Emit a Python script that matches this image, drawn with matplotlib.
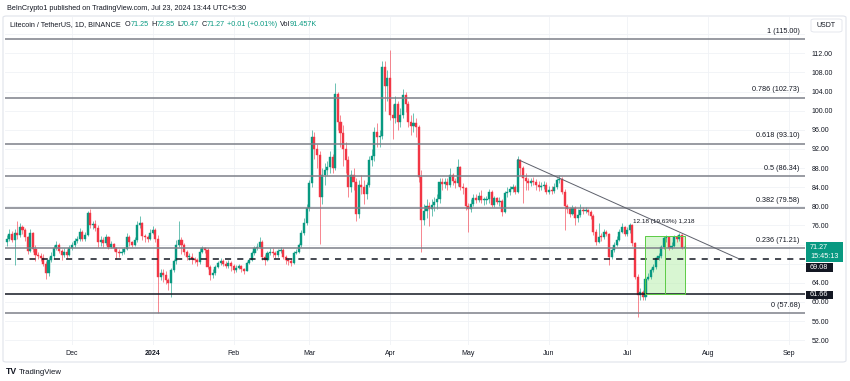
import numpy as np
import matplotlib
matplotlib.use("Agg")
import matplotlib.pyplot as plt
from matplotlib.patches import Rectangle, FancyBboxPatch
import datetime as dt

plt.rcParams['font.family'] = ['Liberation Sans', 'DejaVu Sans']

# ---------------- data (LTC/USDT daily, Nov 6 2023 - Jul 23 2024) ----------------
first_open = 72.5
nov_close = [73.2, 74.2, 73.0, 74.5, 74.0, 75.7, 75.0, 73.5, 70.7, 74.4, 71.0, 69.8, 69.6, 69.2, 68.0,
             66.0, 68.7, 69.6, 71.2, 72.0, 70.6, 69.8, 70.5, 69.8, 71.2]
nov_high = [74.0, 75.3, 74.8, 75.2, 77.0, 76.5, 76.2, 75.5, 73.8, 75.3, 74.6, 72.0, 70.5, 70.3, 70.0,
            68.5, 69.4, 70.5, 72.0, 72.8, 72.4, 71.0, 71.2, 71.0, 72.0]
nov_low = [71.8, 72.8, 72.5, 67.8, 73.2, 73.5, 74.2, 72.8, 70.0, 70.5, 70.5, 68.5, 69.0, 68.6, 67.5,
           64.8, 65.5, 68.3, 69.2, 70.8, 70.2, 68.8, 69.5, 69.3, 69.6]
dec_close = [72.0, 72.8, 73.2, 74.7, 73.2, 74.0, 78.6, 76.0, 76.3, 75.5, 72.5, 73.0, 72.3, 73.5, 71.5,
             72.2, 71.2, 70.5, 70.2, 70.5, 71.0, 73.6, 72.5, 72.0, 72.9, 76.1, 76.5, 73.7, 73.5, 73.2, 74.5]
dec_high = [72.5, 73.4, 73.8, 75.5, 75.0, 74.6, 79.0, 79.5, 77.0, 77.2, 76.0, 73.8, 73.5, 74.2, 73.8,
            72.8, 72.4, 71.6, 71.0, 71.2, 71.6, 74.5, 74.0, 72.8, 73.5, 77.0, 78.0, 76.8, 74.2, 74.0, 75.3]
dec_low = [70.8, 71.5, 72.4, 72.8, 72.8, 72.8, 73.8, 75.5, 75.2, 74.8, 71.5, 71.8, 71.6, 72.0, 71.0,
           71.2, 70.6, 69.0, 69.5, 69.8, 70.0, 70.8, 71.8, 71.5, 71.8, 72.6, 75.5, 73.0, 72.5, 72.6, 73.0]
jan_close = [75.0, 73.2, 65.3, 66.0, 65.6, 64.5, 64.0, 66.7, 68.5, 72.0, 73.0, 71.9, 70.5, 69.5, 69.5,
             69.0, 68.8, 68.4, 70.5, 71.2, 70.8, 67.4, 65.6, 66.0, 67.4, 68.1, 68.6, 68.0, 67.6, 68.1, 67.5]
jan_high = [75.8, 75.5, 74.0, 66.8, 66.8, 66.5, 65.0, 67.2, 69.0, 73.0, 77.0, 73.5, 72.3, 70.8, 70.2,
            70.2, 69.5, 69.2, 71.2, 71.8, 71.5, 71.2, 67.8, 66.8, 67.8, 68.6, 69.2, 69.0, 68.5, 68.8, 68.5]
jan_low = [74.2, 72.5, 57.7, 64.5, 64.2, 63.8, 62.5, 61.0, 66.2, 68.0, 71.5, 70.0, 69.8, 68.8, 68.8,
           68.0, 68.2, 67.6, 68.0, 70.2, 70.2, 66.8, 64.5, 65.0, 65.6, 67.0, 67.8, 67.5, 67.0, 67.2, 66.5]
feb_close = [66.7, 67.2, 67.6, 66.8, 66.5, 68.1, 68.8, 70.2, 71.2, 71.5, 72.6, 69.5, 68.8, 70.2, 70.5,
             70.3, 69.8, 70.6, 70.8, 69.5, 68.8, 68.5, 68.2, 70.2, 70.5, 71.9, 74.4, 76.5, 79.6]
feb_high = [68.0, 67.8, 68.0, 67.8, 67.2, 68.6, 69.2, 70.6, 71.8, 72.3, 73.6, 73.0, 70.0, 70.6, 71.2,
            71.3, 70.6, 71.0, 71.5, 71.2, 69.8, 69.3, 69.0, 70.6, 71.0, 72.4, 75.0, 77.5, 80.5]
feb_low = [66.0, 66.2, 66.8, 66.2, 65.8, 66.4, 68.0, 68.6, 69.8, 70.8, 71.2, 68.8, 67.8, 68.5, 69.8,
           69.5, 69.2, 69.4, 70.2, 69.0, 68.0, 67.8, 67.5, 68.0, 70.0, 70.2, 71.5, 74.0, 76.0]
mar_close = [84.8, 94.6, 92.0, 90.7, 82.0, 86.5, 87.6, 88.3, 90.4, 88.0, 103.5, 97.7, 95.3, 92.0, 89.7,
             84.1, 86.5, 85.0, 78.5, 84.5, 84.0, 82.5, 84.5, 89.7, 90.5, 95.6, 94.5, 94.8, 109.2, 105.1, 106.8]
mar_high = [85.5, 96.0, 95.5, 93.0, 91.5, 88.0, 89.0, 89.5, 91.5, 91.0, 105.8, 104.0, 99.0, 97.0, 93.5,
            90.5, 87.5, 88.0, 86.0, 85.5, 86.5, 85.5, 85.0, 90.5, 92.0, 96.5, 97.5, 96.0, 110.5, 110.5, 108.5]
mar_low = [79.0, 84.0, 90.0, 88.0, 72.2, 80.5, 84.5, 86.5, 87.0, 87.0, 87.5, 96.0, 92.5, 88.5, 87.0,
           82.0, 83.0, 83.5, 77.0, 77.5, 82.5, 80.5, 81.5, 84.0, 88.5, 89.5, 92.5, 92.5, 94.0, 100.0, 102.0]
apr_close = [99.1, 98.4, 101.5, 97.7, 99.0, 103.3, 101.5, 97.7, 96.8, 97.5, 96.5, 86.2, 77.1, 79.0, 80.0,
             79.5, 80.3, 80.9, 81.5, 85.1, 84.6, 85.1, 84.5, 86.5, 85.2, 84.8, 88.3, 84.0, 83.8, 80.0]
apr_high = [112.7, 101.5, 103.0, 102.0, 100.5, 104.5, 104.0, 102.0, 99.0, 99.5, 98.5, 97.0, 87.5, 80.5, 81.5,
            81.0, 81.5, 82.0, 82.5, 86.0, 86.0, 86.0, 86.0, 88.0, 87.0, 86.0, 90.0, 88.5, 84.8, 84.0]
apr_low = [98.0, 94.0, 97.5, 96.0, 96.5, 98.5, 99.8, 96.5, 95.0, 95.5, 94.5, 85.0, 70.5, 76.0, 77.5,
           75.8, 78.0, 79.0, 79.5, 80.8, 83.5, 83.8, 83.5, 84.0, 84.5, 83.8, 84.2, 83.5, 82.6, 79.2]
may_close = [79.5, 80.5, 81.7, 81.4, 82.2, 81.3, 81.3, 81.5, 83.1, 80.3, 81.7, 81.0, 81.2, 78.9, 82.7,
             83.0, 83.6, 84.1, 83.1, 89.7, 88.0, 86.0, 85.3, 84.8, 85.3, 85.1, 84.5, 84.0, 84.2, 84.5, 83.1]
may_high = [80.8, 81.5, 82.5, 82.5, 83.0, 83.5, 82.0, 82.2, 83.6, 83.5, 82.2, 82.0, 82.0, 81.5, 83.2,
            84.0, 84.2, 84.6, 84.5, 90.5, 90.0, 88.5, 87.0, 86.0, 86.0, 86.2, 85.8, 85.3, 85.0, 85.2, 85.0]
may_low = [74.7, 78.8, 80.0, 80.8, 81.0, 80.8, 80.2, 80.5, 80.8, 79.8, 79.8, 80.5, 80.0, 78.0, 78.6,
           82.0, 82.4, 83.0, 82.6, 82.8, 86.5, 80.6, 83.5, 83.5, 84.2, 84.5, 83.5, 83.2, 83.4, 83.6, 82.5]
jun_close = [83.5, 83.2, 84.0, 85.5, 85.8, 83.0, 80.0, 79.4, 78.5, 79.6, 77.5, 78.2, 79.2, 79.0, 79.2,
             78.8, 78.0, 74.7, 72.6, 73.6, 73.5, 74.7, 74.2, 69.5, 70.9, 72.0, 73.0, 74.7, 75.7, 74.2]
jun_high = [84.2, 84.2, 84.8, 86.0, 86.5, 86.2, 83.6, 80.5, 79.8, 80.2, 80.0, 79.5, 80.5, 79.8, 79.8,
            79.5, 79.2, 78.4, 75.2, 76.5, 74.5, 75.2, 75.0, 74.4, 71.6, 72.6, 73.8, 75.3, 76.5, 75.8]
jun_low = [82.6, 82.5, 82.8, 83.6, 84.8, 82.5, 75.0, 78.6, 77.8, 78.2, 76.2, 76.8, 77.8, 78.4, 78.6,
           78.2, 77.4, 74.0, 72.0, 72.4, 72.8, 73.2, 73.8, 67.7, 69.0, 70.4, 71.8, 72.8, 74.5, 73.9]
jul_close = [75.0, 76.1, 72.3, 65.3, 61.4, 62.0, 61.0, 64.9, 65.2, 66.7, 67.3, 69.1, 69.6, 71.5, 73.3,
             73.6, 71.3, 71.8, 73.6, 73.2, 74.0, 71.26, 71.27]
jul_high = [75.6, 76.6, 76.3, 72.5, 65.8, 63.0, 62.6, 65.4, 66.0, 67.2, 68.0, 69.5, 70.2, 72.0, 73.8,
            74.0, 73.8, 72.6, 74.1, 74.0, 74.4, 74.3, 72.85]
jul_low = [73.8, 74.5, 71.8, 64.8, 56.9, 60.5, 60.4, 60.4, 64.5, 64.8, 66.2, 66.8, 68.8, 69.2, 71.0,
           72.5, 70.9, 71.0, 71.4, 72.5, 72.8, 71.0, 70.47]

fib_levels = [115.00, 102.73, 93.10, 86.34, 79.58, 71.21, 57.68]
fib_labels = ["1 (115.00)", "0.786 (102.73)", "0.618 (93.10)", "0.5 (86.34)",
              "0.382 (79.58)", "0.236 (71.21)", "0 (57.68)"]
dashed_level = 69.08
support_level = 61.66
last_price = 71.27
trend_start = ("2024-05-20", 89.8)
trend_end = ("2024-08-13", 69.0)
range_box = ("2024-07-08", "2024-07-23", 61.66, 73.84)
range_text = "12.18 (19.63%) 1,218"
month_ticks = ["2023-12-01", "2024-01-01", "2024-02-01", "2024-03-01", "2024-04-01",
               "2024-05-01", "2024-06-01", "2024-07-01", "2024-08-01", "2024-09-01"]
month_labels = ["Dec", "2024", "Feb", "Mar", "Apr", "May", "Jun", "Jul", "Aug", "Sep"]
price_ticks = list(range(52, 117, 4))
hidden_price_ticks = [68, 72, 116]   # covered by the price-scale labels

# ---------------- assemble ----------------
close = np.array(nov_close + dec_close + jan_close + feb_close + mar_close + apr_close
                 + may_close + jun_close + jul_close)
high = np.array(nov_high + dec_high + jan_high + feb_high + mar_high + apr_high
                + may_high + jun_high + jul_high)
low = np.array(nov_low + dec_low + jan_low + feb_low + mar_low + apr_low
               + may_low + jun_low + jul_low)
opn = np.concatenate([[first_open], close[:-1]])
high = np.maximum(high, np.maximum(opn, close))
low = np.minimum(low, np.minimum(opn, close))

REF = dt.date(2023, 12, 1)
def dnum(s):
    return (dt.date.fromisoformat(s) - REF).days

start = dnum("2023-11-06")
x = np.arange(start, start + len(close))

UP, DOWN = "#089981", "#f23645"
TXT = "#131722"
W, H = 850, 381

fig = plt.figure(figsize=(W / 100, H / 100), dpi=100)
fig.patch.set_facecolor("white")

def fx(p):
    return p / W
def fy(p):
    return 1 - p / H

# frame
fig.patches.append(FancyBboxPatch((fx(3), fy(362)), fx(843), (362 - 16) / H,
                                  boxstyle="round,pad=0,rounding_size=0.004",
                                  transform=fig.transFigure, facecolor="none",
                                  edgecolor="#e0e3eb", lw=0.8, zorder=0))

ax = fig.add_axes([fx(5), fy(345), 800 / W, 328 / H])
ax.set_xlim(-25.7, 281.2)
ax.set_ylim(51.0, 119.6)
for s in ax.spines.values():
    s.set_visible(False)

# axes ticks / grid
ax.set_xticks([dnum(m) for m in month_ticks])
ax.set_xticklabels(month_labels)
for lab in ax.get_xticklabels():
    if lab.get_text() == "2024":
        lab.set_fontweight("bold")
ax.yaxis.tick_right()
ax.set_yticks(price_ticks)
ax.set_yticklabels(["" if v in hidden_price_ticks else f"{v:.2f}" for v in price_ticks])
ax.tick_params(axis="both", length=0, labelsize=5.0, labelcolor=TXT)
ax.tick_params(axis="x", pad=3.5)
ax.tick_params(axis="y", pad=4.5)
ax.grid(True, color="#f0f2f6", lw=0.6, zorder=0)
ax.set_axisbelow(True)

# candles
cols = np.where(close >= opn, UP, DOWN)
ax.vlines(x, low, high, colors=cols, lw=0.7, alpha=0.6, zorder=2)
body_h = np.where(np.abs(close - opn) < 0.15, 0.15, close - opn)
ax.bar(x, body_h, bottom=opn, width=0.8, color=cols, edgecolor=cols, lw=0.3, zorder=2.2)

# fib levels
for lv, lb in zip(fib_levels, fib_labels):
    ax.axhline(lv, color="#7d8089", lw=1.1, zorder=3)
    ax.text(0.9935, lv + 0.9, lb, transform=ax.get_yaxis_transform(), ha="right", va="bottom",
            fontsize=5.2, color=TXT, zorder=4)

ax.axhline(dashed_level, color="#131722", lw=1.1, ls=(0, (4, 4)), zorder=3)
ax.axhline(support_level, color="#131722", lw=1.1, zorder=3)

# trendline
ax.plot([dnum(trend_start[0]), dnum(trend_end[0])], [trend_start[1], trend_end[1]],
        color="#5d606b", lw=0.7, zorder=3.5)

# price range box
b0, b1, lo, hi = dnum(range_box[0]), dnum(range_box[1]), range_box[2], range_box[3]
ax.add_patch(Rectangle((b0, lo), b1 - b0, hi - lo, facecolor="#b9f0ad", alpha=0.55,
                       edgecolor="none", zorder=1.5))
ax.add_patch(Rectangle((b0, lo), b1 - b0, hi - lo, facecolor="none",
                       edgecolor="#5ccb45", lw=0.7, zorder=3.6))
xm = (b0 + b1) / 2
ax.plot([xm, xm], [lo, hi], color="#5ccb45", lw=0.7, zorder=3.6)
ax.text(xm - 0.5, 76.3, range_text, ha="center", va="bottom", fontsize=4.6, color=TXT, zorder=4)

# right-hand price labels
def price_box(y0, y1, x0, x1, color):
    fig.patches.append(Rectangle((fx(x0), fy(y1)), (x1 - x0) / W, (y1 - y0) / H,
                                 transform=fig.transFigure, facecolor=color,
                                 edgecolor="none", zorder=5))

price_box(241.5, 262, 806, 843, UP)
fig.text(fx(810), fy(247.5), f"{last_price:.2f}", color="white", fontsize=5.2, va="center", zorder=6)
fig.text(fx(810), fy(257.0), "15:45:13", color="white", fontsize=5.2, va="center", zorder=6)
price_box(262.5, 272, 806, 833, "#131722")
fig.text(fx(810), fy(267.3), f"{dashed_level:.2f}", color="white", fontsize=5.2, va="center", zorder=6)
price_box(290.5, 299, 806, 833, "#131722")
fig.text(fx(810), fy(294.8), f"{support_level:.2f}", color="white", fontsize=5.2, va="center", zorder=6)

# USDT box
fig.patches.append(FancyBboxPatch((fx(811), fy(32)), 31 / W, 13 / H,
                                  boxstyle="round,pad=0,rounding_size=0.004",
                                  transform=fig.transFigure, facecolor="white",
                                  edgecolor="#e0e3eb", lw=0.6, zorder=5))
fig.text(fx(826.5), fy(25.5), "USDT", color=TXT, fontsize=5.0, ha="center", va="center", zorder=6)

# header texts
fig.text(fx(7), fy(8.5), "BeInCrypto1 published on TradingView.com, Jul 23, 2024 13:44 UTC+5:30",
         color=TXT, fontsize=5.2, va="center")

renderer = fig.canvas.get_renderer()
parts = [("Litecoin / TetherUS, 1D, BINANCE", TXT, 4), ("O", TXT, 0), ("71.25", UP, 2.5),
         ("H", TXT, 0), ("72.85", UP, 2.5), ("L", TXT, 0), ("70.47", UP, 2.5),
         ("C", TXT, 0), ("71.27", UP, 2.5), ("+0.01 (+0.01%)", UP, 2.5),
         ("Vol", TXT, 0), ("91.457K", UP, 0)]
xp = 10
for s, c, gap in parts:
    t = fig.text(fx(xp), fy(25), s, color=c, fontsize=5.2, va="center", ha="left", zorder=6)
    bb = t.get_window_extent(renderer=renderer)
    xp += bb.width + gap

# footer logo
fig.text(fx(6), fy(372), "TV", color=TXT, fontsize=6.2, fontweight="bold", va="center")
fig.text(fx(19), fy(372), "TradingView", color=TXT, fontsize=5.6, va="center")

fig.savefig("out.png", dpi=100, facecolor="white")
